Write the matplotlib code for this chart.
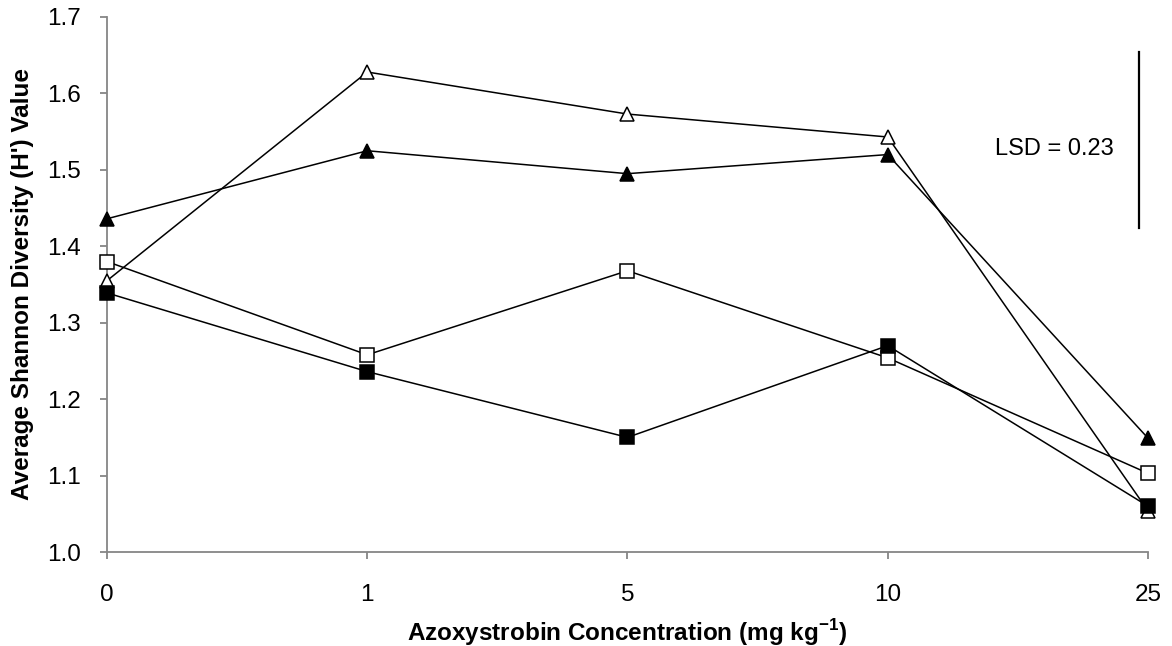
import matplotlib
matplotlib.use("Agg")
import matplotlib.pyplot as plt

plt.rcParams['font.family'] = ['Liberation Sans', 'DejaVu Sans']

# azoxystrobin doses (mg/kg) shown as evenly spaced categories
doses = ['0', '1', '5', '10', '25']

# average Shannon diversity (H') per treatment series
h_filled_tri = [1.436, 1.525, 1.495, 1.520, 1.149]
h_open_tri = [1.355, 1.628, 1.573, 1.543, 1.054]
h_open_sq = [1.380, 1.258, 1.368, 1.254, 1.103]
h_filled_sq = [1.339, 1.236, 1.150, 1.270, 1.060]

lsd = 0.23
lsd_bottom = 1.424

fig = plt.figure(figsize=(11.72, 6.46), dpi=100)
ax = fig.add_axes([0.0913, 0.1455, 0.8882, 0.8282])

x = list(range(len(doses)))
styles = [
    (h_filled_tri, '^', 'black'),
    (h_open_tri, '^', 'white'),
    (h_open_sq, 's', 'white'),
    (h_filled_sq, 's', 'black'),
]
for vals, mk, face in styles:
    ax.plot(x, vals, color='black', linewidth=1.1, marker=mk, markersize=10,
            markerfacecolor=face, markeredgecolor='black', markeredgewidth=1.1,
            clip_on=False, zorder=3)

# LSD bar
ax.plot([3.965, 3.965], [lsd_bottom, lsd_bottom + lsd], color='black', linewidth=1.6)
ax.text(3.642, lsd_bottom + lsd / 2 - 0.012, f'LSD = {lsd}', fontsize=17,
        ha='center', va='center')

ax.set_xlim(0, 4)
ax.set_ylim(1.0, 1.7)
ax.set_xticks(x)
ax.set_xticklabels(doses)
ax.set_yticks([1.0, 1.1, 1.2, 1.3, 1.4, 1.5, 1.6, 1.7])
ax.set_yticklabels(['1.0', '1.1', '1.2', '1.3', '1.4', '1.5', '1.6', '1.7'])

for side in ['top', 'right']:
    ax.spines[side].set_visible(False)
for side in ['left', 'bottom']:
    ax.spines[side].set_color('#868686')
    ax.spines[side].set_linewidth(1.3)
ax.tick_params(axis='both', colors='#868686', labelcolor='black',
               labelsize=17.5, length=5, width=1.3, direction='out')
ax.tick_params(axis='x', pad=18)
ax.tick_params(axis='y', pad=14)

ax.set_xlabel('Azoxystrobin Concentration (mg kg$^{\\mathregular{-1}}$)',
              fontsize=17.5, fontweight='bold', labelpad=8)
ax.set_ylabel("Average Shannon Diversity (H') Value", fontsize=17.5,
              fontweight='bold', labelpad=9)

fig.savefig('out.png', dpi=100)
